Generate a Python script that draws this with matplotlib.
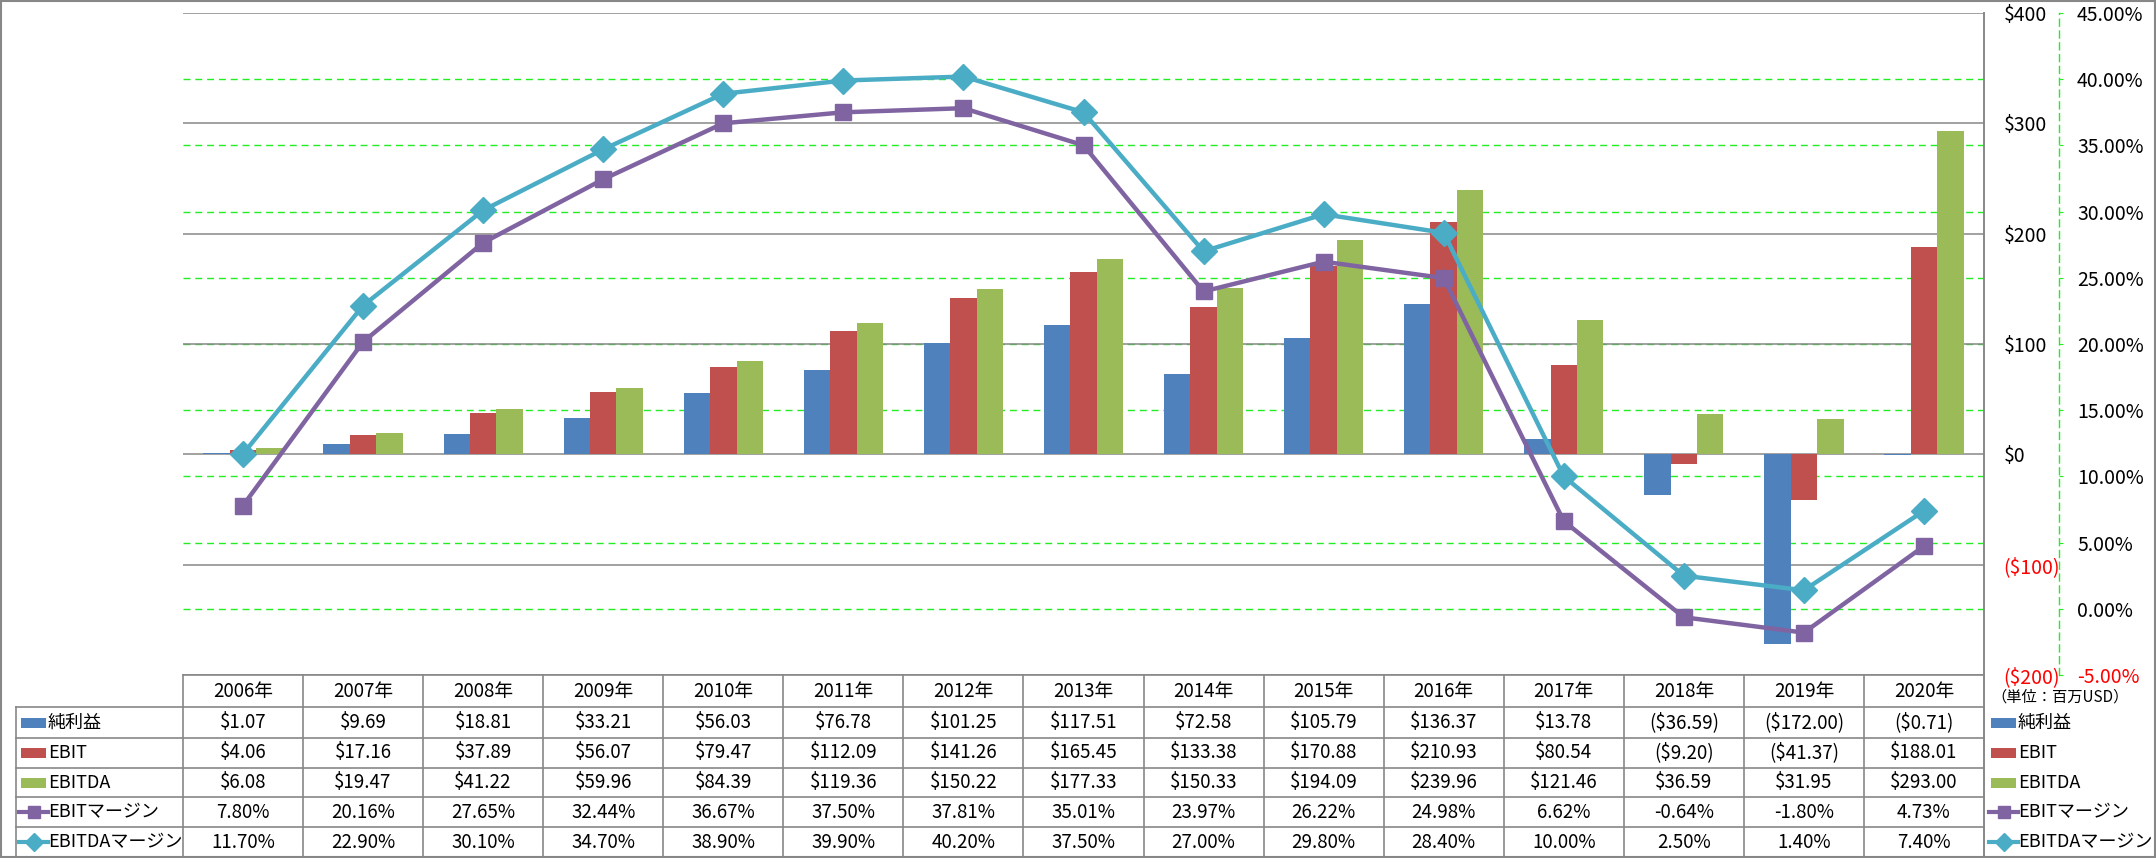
import numpy as np
import matplotlib.pyplot as plt
from matplotlib.patches import Rectangle

plt.rcParams['font.family'] = ['Noto Sans CJK JP', 'DejaVu Sans']

# data (百万USD / %)
years = ['2006年', '2007年', '2008年', '2009年', '2010年', '2011年', '2012年', '2013年',
         '2014年', '2015年', '2016年', '2017年', '2018年', '2019年', '2020年']
net_income = [1.07, 9.69, 18.81, 33.21, 56.03, 76.78, 101.25, 117.51,
              72.58, 105.79, 136.37, 13.78, -36.59, -172.00, -0.71]
ebit = [4.06, 17.16, 37.89, 56.07, 79.47, 112.09, 141.26, 165.45,
        133.38, 170.88, 210.93, 80.54, -9.20, -41.37, 188.01]
ebitda = [6.08, 19.47, 41.22, 59.96, 84.39, 119.36, 150.22, 177.33,
          150.33, 194.09, 239.96, 121.46, 36.59, 31.95, 293.00]
ebit_margin = [7.80, 20.16, 27.65, 32.44, 36.67, 37.50, 37.81, 35.01,
               23.97, 26.22, 24.98, 6.62, -0.64, -1.80, 4.73]
ebitda_margin = [11.70, 22.90, 30.10, 34.70, 38.90, 39.90, 40.20, 37.50,
                 27.00, 29.80, 28.40, 10.00, 2.50, 1.40, 7.40]

usd_ticks = [-200, -100, 0, 100, 200, 300, 400]
pct_ticks = [-5, 0, 5, 10, 15, 20, 25, 30, 35, 40, 45]

C_NI, C_EBIT, C_EBITDA = '#4F81BD', '#C0504D', '#9BBB59'
C_M1, C_M2 = '#8064A2', '#4BACC6'
GRAY = '#878787'
GREEN = '#22EE22'


def usd(v):
    return f'${v:,.2f}' if v >= 0 else f'(${-v:,.2f})'


def usd_tick(v):
    return f'${v:.0f}' if v >= 0 else f'(${-v:.0f})'


# layout in pixels
W, H = 2156, 858
PL, PR, PT, PB = 183, 1984, 13, 675
TL = 16
rows_y = [675, 707, 738, 768, 797, 827, 857]

fig = plt.figure(figsize=(W / 100, H / 100), dpi=100)
rect = [PL / W, 1 - PB / H, (PR - PL) / W, (PB - PT) / H]
x = np.arange(len(years))

# percent axis (behind): green dashed grid + outward spine
axp = fig.add_axes(rect, zorder=0)
for s in ['left', 'top', 'bottom']:
    axp.spines[s].set_visible(False)
axp.spines['right'].set_position(('outward', 54))
axp.spines['right'].set_color(GREEN)
axp.spines['right'].set_linestyle((0, (5, 3.5)))
axp.spines['right'].set_linewidth(1.0)
axp.set_xlim(-0.5, 14.5)
axp.set_ylim(-5, 45)
axp.set_xticks([])
axp.yaxis.tick_right()
axp.set_yticks(pct_ticks)
axp.set_yticklabels([f'{p:.2f}%' for p in pct_ticks], fontsize=14)
for t, p in zip(axp.get_yticklabels(), pct_ticks):
    t.set_color('red' if p < 0 else 'black')
axp.tick_params(axis='y', length=3, color=GREEN, pad=10)
for p in pct_ticks[1:-1]:
    axp.axhline(p, color=GREEN, linestyle=(0, (5, 3.5)), lw=1.0)

# bars on USD axis
axb = fig.add_axes(rect, zorder=1)
axb.patch.set_visible(False)
for s in ['left', 'top', 'bottom']:
    axb.spines[s].set_visible(False)
axb.spines['right'].set_color(GRAY)
axb.spines['right'].set_linewidth(1.2)
axb.set_xlim(-0.5, 14.5)
axb.set_ylim(-200, 400)
axb.set_xticks([])
bw = 0.22
axb.bar(x - bw, net_income, bw, color=C_NI, zorder=3)
axb.bar(x, ebit, bw, color=C_EBIT, zorder=3)
axb.bar(x + bw, ebitda, bw, color=C_EBITDA, zorder=3)
axb.yaxis.tick_right()
axb.set_yticks(usd_ticks)
axb.set_yticklabels([usd_tick(v) for v in usd_ticks], fontsize=14)
for t, v in zip(axb.get_yticklabels(), usd_ticks):
    t.set_color('red' if v < 0 else 'black')
axb.tick_params(axis='y', length=0, pad=14)
axb.grid(axis='y', color=GRAY, lw=1.1, zorder=1)
axb.set_axisbelow(True)

# margin lines on top
axl = fig.add_axes(rect, zorder=2)
axl.patch.set_visible(False)
axl.set_xlim(-0.5, 14.5)
axl.set_ylim(-5, 45)
axl.axis('off')
axl.plot(x, ebit_margin, color=C_M1, lw=3.2, marker='s', ms=12, clip_on=False)
axl.plot(x, ebitda_margin, color=C_M2, lw=3.2, marker='D', ms=13, clip_on=False)

# data table + legends in pixel coordinates
tab = fig.add_axes([0, 0, 1, 1], zorder=3)
tab.set_xlim(0, W)
tab.set_ylim(H, 0)
tab.axis('off')
tab.patch.set_visible(False)

cw = (PR - PL) / len(years)
tab.plot([PL, PR], [rows_y[0]] * 2, color=GRAY, lw=1.2)
for yy in rows_y[1:-1]:
    tab.plot([TL, PR], [yy, yy], color=GRAY, lw=1.2)
tab.plot([TL, TL], [rows_y[1], rows_y[-1]], color=GRAY, lw=1.2)
for i in range(len(years) + 1):
    xx = PL + i * cw
    tab.plot([xx, xx], [rows_y[0], rows_y[-1]], color=GRAY, lw=1.2)
tab.plot([PR, PR], [PT, rows_y[-1]], color=GRAY, lw=1.2)

row_names = ['純利益', 'EBIT', 'EBITDA', 'EBITマージン', 'EBITDAマージン']
row_vals = [[usd(v) for v in net_income],
            [usd(v) for v in ebit],
            [usd(v) for v in ebitda],
            [f'{v:.2f}%' for v in ebit_margin],
            [f'{v:.2f}%' for v in ebitda_margin]]
styles = [('bar', C_NI, None), ('bar', C_EBIT, None), ('bar', C_EBITDA, None),
          ('line', C_M1, 's'), ('line', C_M2, 'D')]

ymid = [(rows_y[k] + rows_y[k + 1]) / 2 for k in range(len(rows_y) - 1)]
FS = 13.5
for i, yr in enumerate(years):
    cx = PL + (i + 0.5) * cw
    tab.text(cx, ymid[0], yr, ha='center', va='center', fontsize=FS)
    for r in range(5):
        tab.text(cx, ymid[r + 1], row_vals[r][i], ha='center', va='center', fontsize=FS)


def key(x0, yc, style):
    kind, col, mk = style
    if kind == 'bar':
        tab.add_patch(Rectangle((x0 + 2, yc - 5), 25, 10, color=col, lw=0))
    else:
        tab.plot([x0, x0 + 29], [yc, yc], color=col, lw=3.0)
        tab.plot([x0 + 14.5], [yc], color=col, marker=mk, ms=8 if mk == 's' else 9)


for r in range(5):
    yc = ymid[r + 1]
    key(TL + 3, yc, styles[r])
    tab.text(TL + 32, yc, row_names[r], ha='left', va='center', fontsize=13)
    key(PR + 5, yc, styles[r])
    tab.text(PR + 34, yc, row_names[r], ha='left', va='center', fontsize=13)

tab.text(2060, 697, '（単位：百万USD）', ha='center', va='center', fontsize=11)
tab.add_patch(Rectangle((1, 1), W - 2, H - 2, fill=False, ec=GRAY, lw=1.5))

fig.savefig('out.png', dpi=100)
